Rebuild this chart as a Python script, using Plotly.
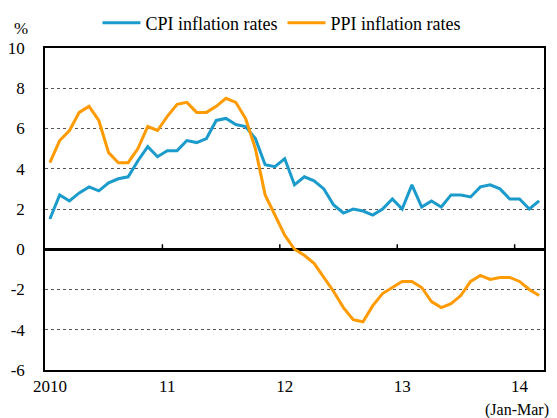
import plotly.graph_objects as go

# Monthly data, Jan 2010 - Mar 2014 (year-on-year %)
years = [2010] * 12 + [2011] * 12 + [2012] * 12 + [2013] * 12 + [2014] * 3
months = list(range(1, 13)) * 4 + [1, 2, 3]

cpi = [1.5, 2.7, 2.4, 2.8, 3.1, 2.9, 3.3, 3.5, 3.6, 4.4, 5.1, 4.6,
       4.9, 4.9, 5.4, 5.3, 5.5, 6.4, 6.5, 6.2, 6.1, 5.5, 4.2, 4.1,
       4.5, 3.2, 3.6, 3.4, 3.0, 2.2, 1.8, 2.0, 1.9, 1.7, 2.0, 2.5,
       2.0, 3.2, 2.1, 2.4, 2.1, 2.7, 2.7, 2.6, 3.1, 3.2, 3.0, 2.5,
       2.5, 2.0, 2.4]

ppi = [4.3, 5.4, 5.9, 6.8, 7.1, 6.4, 4.8, 4.3, 4.3, 5.0, 6.1, 5.9,
       6.6, 7.2, 7.3, 6.8, 6.8, 7.1, 7.5, 7.3, 6.5, 5.0, 2.7, 1.7,
       0.7, 0.0, -0.3, -0.7, -1.4, -2.1, -2.9, -3.5, -3.6, -2.8, -2.2, -1.9,
       -1.6, -1.6, -1.9, -2.6, -2.9, -2.7, -2.3, -1.6, -1.3, -1.5, -1.4, -1.4,
       -1.6, -2.0, -2.3]

year_labels = ["2010", "11", "12", "13", "14"]
y_ticks = [10, 8, 6, 4, 2, 0, -2, -4, -6]
y_tick_labels = ["10", "8", "6", "4", "2", "0", "-2", "-4", "-6"]

FONT = "Liberation Serif"
BLUE = "#1a9bcb"
ORANGE = "#ff9a00"

idx = list(range(len(cpi)))
jan_idx = [i for i, m in enumerate(months) if m == 1]

fig = go.Figure()
fig.add_trace(go.Scatter(x=idx, y=cpi, mode="lines", name="CPI inflation rates",
                         line=dict(color=BLUE, width=3)))
fig.add_trace(go.Scatter(x=idx, y=ppi, mode="lines", name="PPI inflation rates",
                         line=dict(color=ORANGE, width=3)))

# small year-boundary ticks on the zero line
for i in jan_idx[1:]:
    fig.add_shape(type="line", xref="x", yref="y", x0=i - 0.5, x1=i - 0.5,
                  ysizemode="pixel", yanchor=0, y0=0, y1=5,
                  line=dict(color="black", width=1.5))

fig.update_xaxes(range=[-0.5, len(cpi) - 0.5], tickmode="array",
                 tickvals=jan_idx, ticktext=year_labels, showgrid=False,
                 zeroline=False, showline=True, linecolor="black", linewidth=1.5,
                 mirror=True, ticks="", ticklabelstandoff=0, automargin=False,
                 tickfont=dict(family=FONT, size=17, color="black"))
fig.update_yaxes(range=[-6, 10], tickmode="array", tickvals=y_ticks,
                 ticktext=y_tick_labels,
                 showgrid=True, gridcolor="#555555", griddash="3px,3px", gridwidth=1,
                 zeroline=True, zerolinecolor="black", zerolinewidth=2.5,
                 showline=True, linecolor="black", linewidth=1.5, mirror=True,
                 ticks="", ticklabelstandoff=15, automargin=False,
                 tickfont=dict(family=FONT, size=17, color="black"))

fig.add_annotation(text="%", xref="paper", yref="paper", x=-0.048, y=1.062,
                   xanchor="center", yanchor="middle",
                   showarrow=False, font=dict(family=FONT, size=17, color="black"))
fig.add_annotation(text="(Jan-Mar)", xref="paper", yref="paper", x=0.946, y=-0.124,
                   xanchor="center", yanchor="middle",
                   showarrow=False, font=dict(family=FONT, size=16, color="black"))

fig.update_layout(
    width=549, height=410,
    margin=dict(l=37, r=13, t=40, b=48),
    paper_bgcolor="white", plot_bgcolor="white",
    font=dict(family=FONT, size=17, color="black"),
    legend=dict(orientation="h", xref="container", yref="container",
                x=0.163, xanchor="left", y=0.963, yanchor="middle",
                font=dict(family=FONT, size=18, color="black"),
                bgcolor="rgba(0,0,0,0)", itemwidth=38, tracegroupgap=0),
    showlegend=True,
)

fig.write_html("out.html")
